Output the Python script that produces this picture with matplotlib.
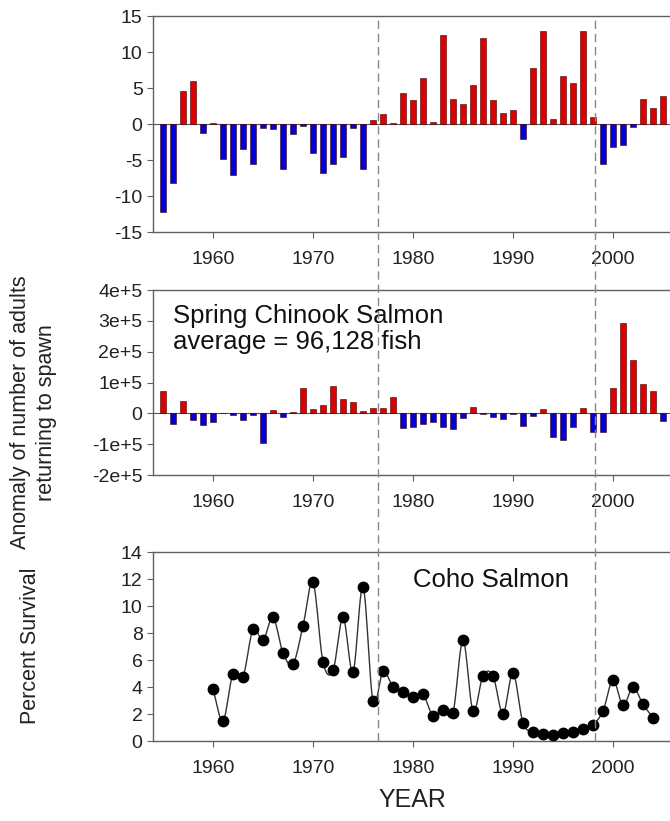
import numpy as np
import matplotlib
matplotlib.use("Agg")
import matplotlib.pyplot as plt
from matplotlib.lines import Line2D
from matplotlib import transforms

plt.rcParams['font.family'] = ['Liberation Sans', 'DejaVu Sans']
plt.rcParams['axes.unicode_minus'] = False

# top panel: anomaly (unitless index), 1955-2005
top_years = np.arange(1955, 2006)
top_vals = [-12.2, -8.15, 4.6, 6.0, -1.3, 0.1, -4.8, -7.1, -3.5, -5.5,
            -0.55, -0.7, -6.2, -1.4, -0.3, -4.0, -6.85, -5.5, -4.6, -0.5,
            -6.2, 0.5, 1.4, 0.1, 4.35, 3.33, 6.34, 0.28, 12.3, 3.47,
            2.73, 5.46, 12.0, 3.38, 1.48, 1.94, -2.04, 7.73, 12.96, 0.69,
            6.67, 5.65, 12.96, 0.93, -5.5, -3.2, -2.9, -0.46, 3.43, 2.27,
            3.94]

# middle panel: spring chinook anomaly, 1955-2005
mid_years = np.arange(1955, 2006)
mid_vals = [0.73e5, -0.34e5, 0.40e5, -0.23e5, -0.37e5, -0.27e5, 0.02e5, -0.05e5, -0.23e5, -0.04e5,
            -0.97e5, 0.12e5, -0.11e5, 0.03e5, 0.82e5, 0.15e5, 0.28e5, 0.88e5, 0.46e5, 0.37e5,
            0.08e5, 0.17e5, 0.19e5, 0.52e5, -0.49e5, -0.44e5, -0.35e5, -0.27e5, -0.43e5, -0.52e5,
            -0.14e5, 0.20e5, -0.01e5, -0.11e5, -0.17e5, -0.02e5, -0.41e5, -0.09e5, 0.15e5, -0.77e5,
            -0.87e5, -0.45e5, 0.17e5, -0.59e5, -0.59e5, 0.82e5, 2.92e5, 1.72e5, 0.95e5, 0.71e5,
            -0.25e5]
mid_ticks = [-2e5, -1e5, 0, 1e5, 2e5, 3e5, 4e5]
mid_ticklabels = ["-2e+5", "-1e+5", "0", "1e+5", "2e+5", "3e+5", "4e+5"]

# bottom panel: coho percent survival, 1960-2004
coho_years = np.arange(1960, 2005)
coho_vals = [3.83, 1.5, 5.0, 4.77, 8.27, 7.46, 9.16, 6.52, 5.70, 8.52,
             11.75, 5.85, 5.23, 9.16, 5.11, 11.43, 2.94, 5.16, 4.02, 3.63,
             3.28, 3.46, 1.85, 2.27, 2.10, 7.46, 2.2, 4.84, 4.84, 2.02,
             5.04, 1.33, 0.69, 0.52, 0.47, 0.62, 0.64, 0.86, 1.21, 2.22,
             4.52, 2.64, 3.98, 2.72, 1.73]

regime_shifts = [1976.5, 1998.2]

RED = "#dd0000"
BLUE = "#0000dd"
SPINE = "#606060"
XLIM = (1954, 2005.7)

fig = plt.figure(figsize=(6.7, 8.21), dpi=100)
ax1 = fig.add_axes([0.2284, 0.7174, 0.7716, 0.2631])
ax2 = fig.add_axes([0.2284, 0.4214, 0.7716, 0.2253])
ax3 = fig.add_axes([0.2284, 0.0974, 0.7716, 0.2302])


def style(ax):
    ax.set_xlim(*XLIM)
    ax.set_xticks([1960, 1970, 1980, 1990, 2000])
    ax.spines['right'].set_visible(False)
    for s in ['left', 'bottom', 'top']:
        ax.spines[s].set_color(SPINE)
        ax.spines[s].set_linewidth(1.0)
    ax.tick_params(direction='out', length=4, color=SPINE, labelsize=14,
                   labelcolor="#222222", top=False, right=False)
    ax.tick_params(axis='x', pad=10)


def bars(ax, years, vals):
    vals = np.array(vals)
    colors = [RED if v > 0 else BLUE for v in vals]
    ax.bar(years, vals, width=0.65, color=colors, edgecolor="#400000",
           linewidth=0.4, zorder=2)


bars(ax1, top_years, top_vals)
style(ax1)
ax1.set_ylim(-15, 15)
ax1.set_yticks([-15, -10, -5, 0, 5, 10, 15])
ax1.axhline(0, color="#555555", lw=0.8, zorder=1)

bars(ax2, mid_years, mid_vals)
style(ax2)
ax2.set_ylim(-2e5, 4e5)
ax2.set_yticks(mid_ticks)
ax2.set_yticklabels(mid_ticklabels)
ax2.axhline(0, color="#555555", lw=0.8, zorder=1)
ax2.text(1956, 3.55e5, "Spring Chinook Salmon\naverage = 96,128 fish",
         fontsize=18.5, va='top', ha='left', color="#111111", linespacing=1.1)

# smooth curve through the survival points (Catmull-Rom), then the markers
x = np.array(coho_years, dtype=float)
y = np.array(coho_vals)
px = np.concatenate([[2 * x[0] - x[1]], x, [2 * x[-1] - x[-2]]])
py = np.concatenate([[2 * y[0] - y[1]], y, [2 * y[-1] - y[-2]]])
sx, sy = [], []
t = np.linspace(0, 1, 12)[:-1]
for i in range(1, len(px) - 2):
    for p, s in ((px, sx), (py, sy)):
        p0, p1, p2, p3 = p[i - 1], p[i], p[i + 1], p[i + 2]
        s.extend(0.5 * (2 * p1 + (-p0 + p2) * t + (2 * p0 - 5 * p1 + 4 * p2 - p3) * t ** 2
                        + (-p0 + 3 * p1 - 3 * p2 + p3) * t ** 3))
sx.append(x[-1])
sy.append(y[-1])
ax3.plot(sx, sy, color="#333333", lw=1.0, zorder=2)
ax3.plot(x, y, 'o', color="black", ms=7.5, zorder=3)
style(ax3)
ax3.set_ylim(0, 14)
ax3.set_yticks([0, 2, 4, 6, 8, 10, 12, 14])
ax3.text(1980, 12.8, "Coho Salmon", fontsize=18.5, va='top', ha='left', color="#111111")

# regime-shift lines running through all three panels
trans = transforms.blended_transform_factory(ax1.transData, fig.transFigure)
for xr in regime_shifts:
    fig.add_artist(Line2D([xr, xr], [0.0974, 0.978], transform=trans,
                          color="#888888", lw=1.0, ls=(0, (6, 3.5)), zorder=5))

fig.text(0.05, 0.498, "Anomaly of number of adults\nreturning to spawn", rotation=90,
         ha='center', va='center', fontsize=15.5, color="#222222", linespacing=1.3)
fig.text(0.045, 0.214, "Percent Survival", rotation=90, ha='center', va='center',
         fontsize=15.5, color="#222222")
fig.text(0.615, 0.026, "YEAR", ha='center', va='center', fontsize=18, color="#222222")

fig.savefig("out.png", dpi=100)
